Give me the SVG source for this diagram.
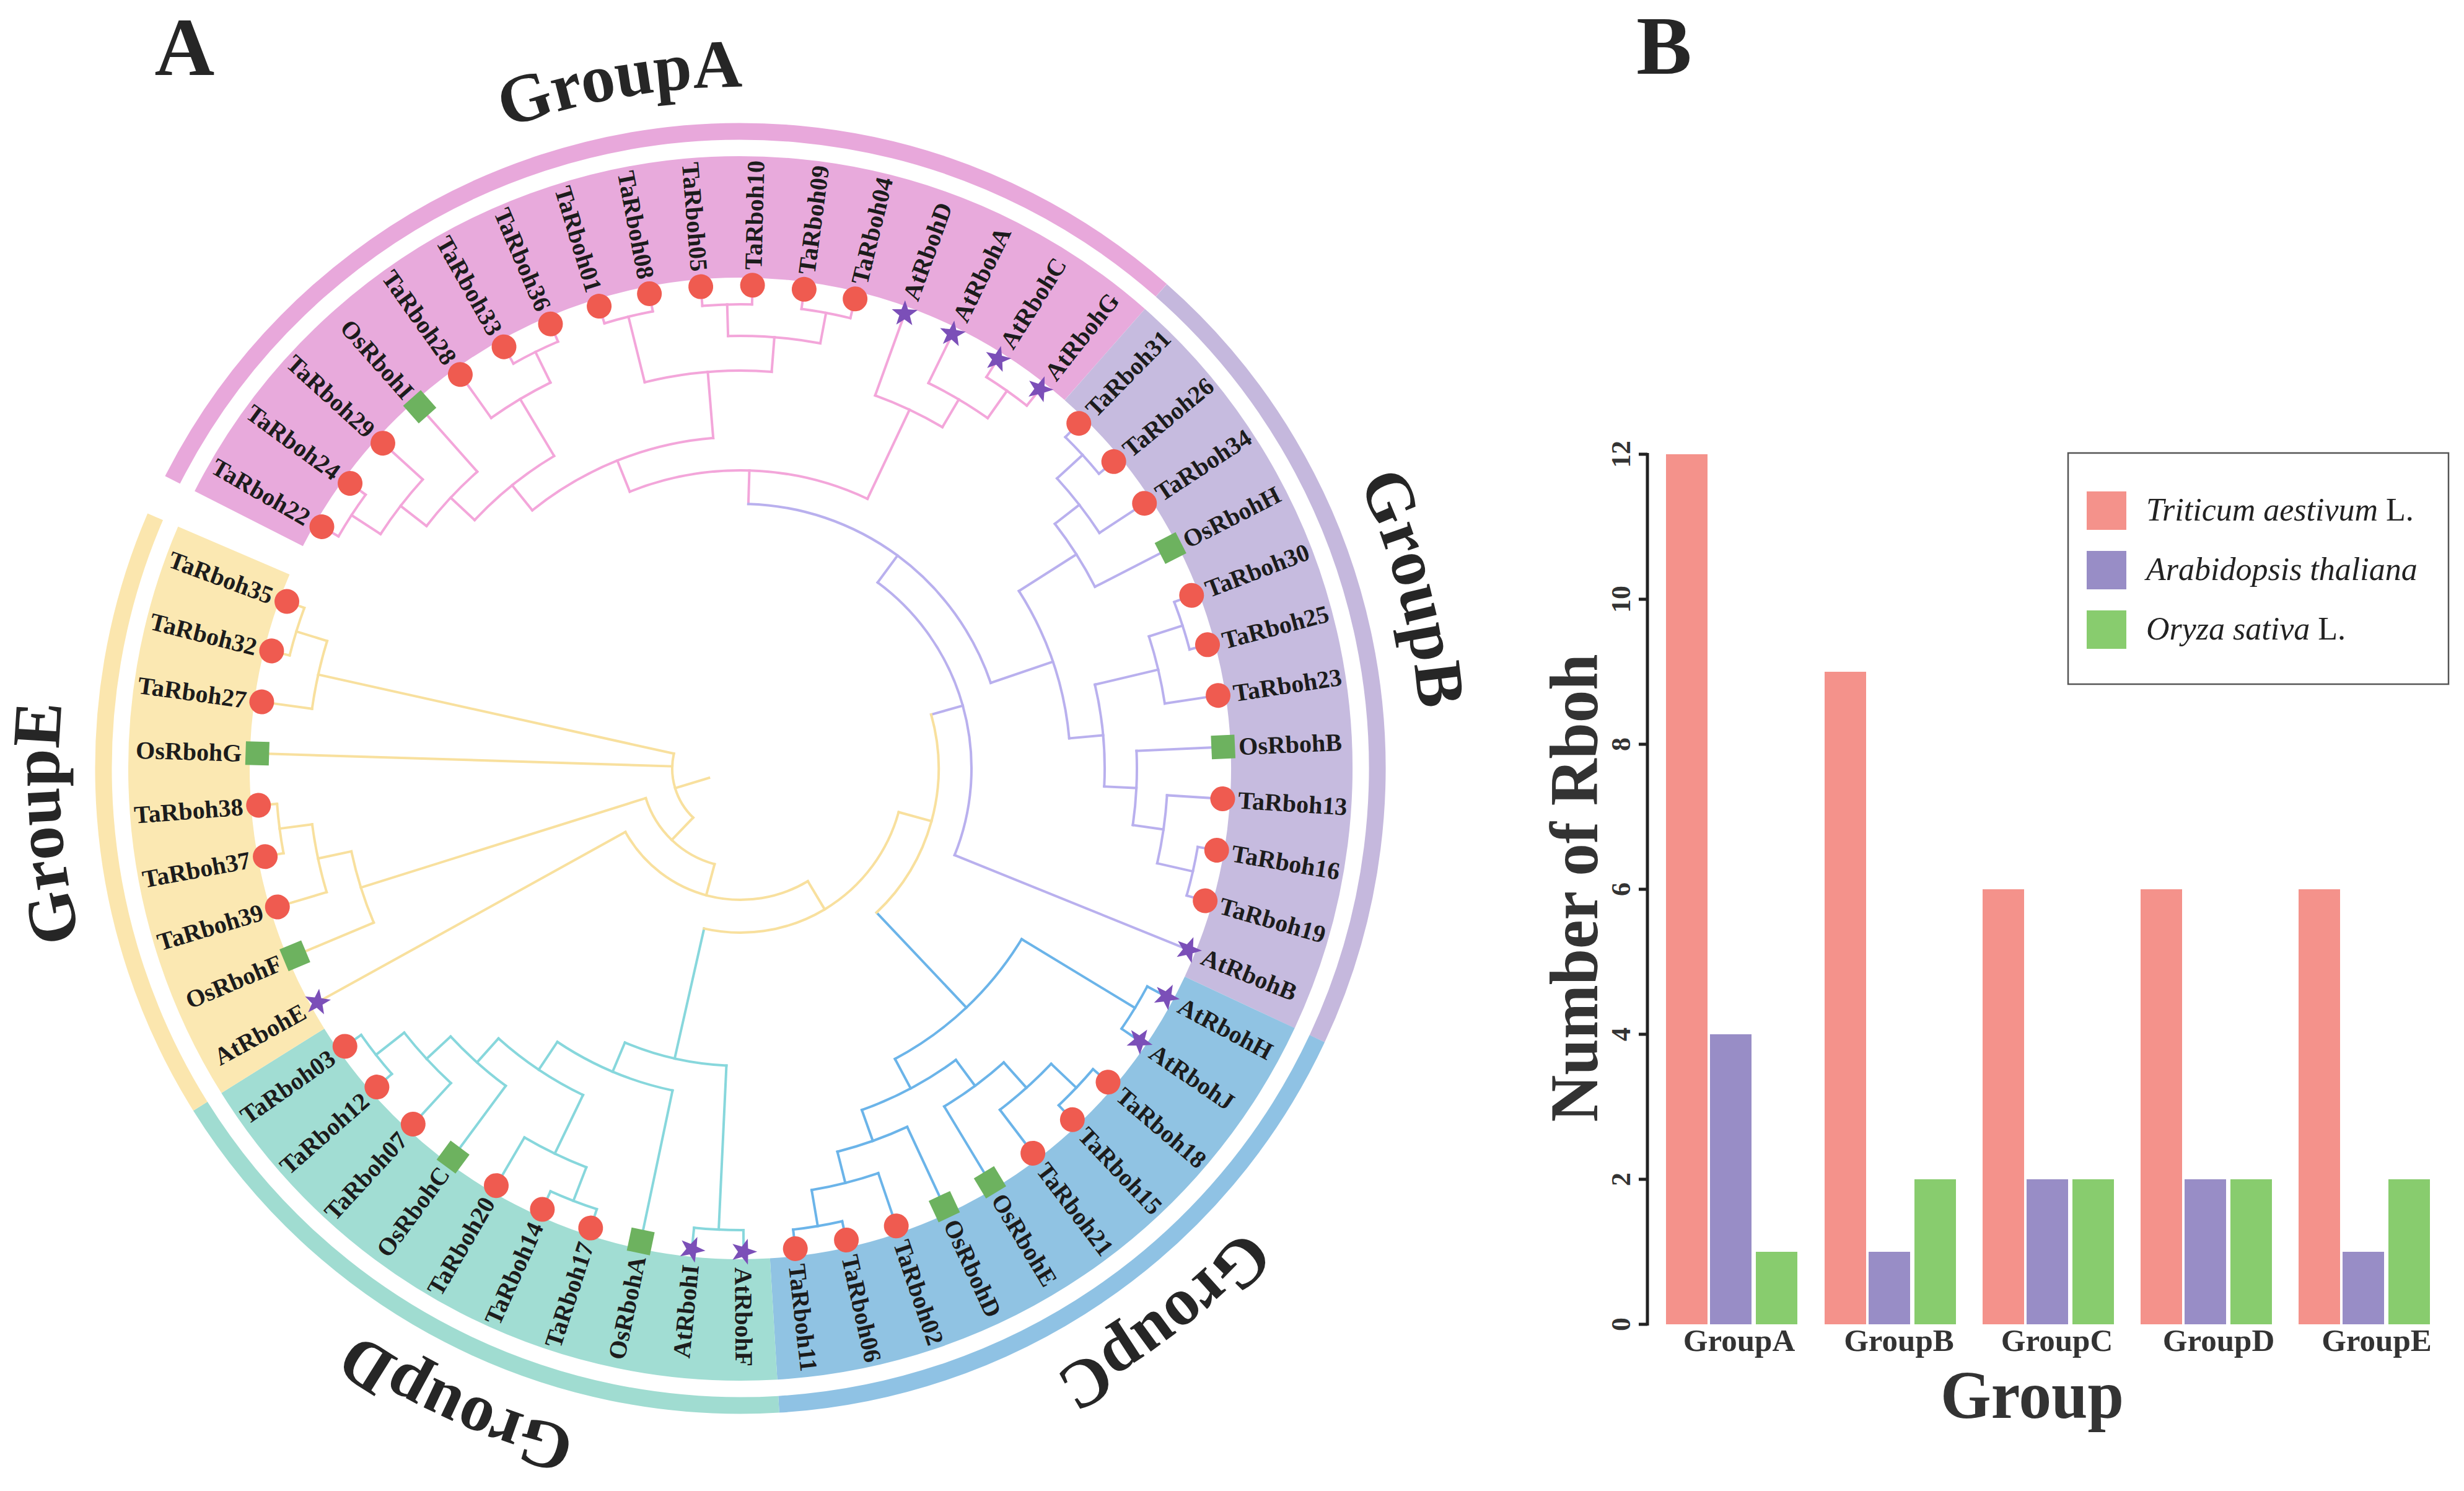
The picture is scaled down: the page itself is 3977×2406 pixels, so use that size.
<svg xmlns="http://www.w3.org/2000/svg" xmlns:xlink="http://www.w3.org/1999/xlink" width="3977" height="2406" viewBox="0 0 3977 2406">
<style>
.a{stroke:#F3A6DA}.b{stroke:#B9B0EE}.c{stroke:#6BB4E9}.d{stroke:#87D7DC}.e{stroke:#F8E09E}
#connectors circle,#connectors line{fill:none;stroke-width:4;stroke-linecap:square}
.lb{font-family:"Liberation Serif","Times New Roman",serif;font-weight:bold;font-size:40px;fill:#1c1c1c}
.gl{font-family:"Liberation Serif","Times New Roman",serif;font-weight:bold;font-size:110px;fill:#262626}
.pl{font-family:"Liberation Serif","Times New Roman",serif;font-weight:bold;font-size:134px;fill:#262626}
.tk{font-family:"Liberation Serif","Times New Roman",serif;font-weight:bold;font-size:44px;fill:#333}
.xl{font-family:"Liberation Serif","Times New Roman",serif;font-weight:bold;font-size:51px;fill:#333}
.ax{font-family:"Liberation Serif","Times New Roman",serif;font-weight:bold;font-size:110px;fill:#333}
.lg{font-family:"Liberation Serif","Times New Roman",serif;font-size:52px;fill:#222}
.band{fill:none;stroke-width:196}
.ring{fill:none;stroke-width:27}
</style>
<defs>
<circle id="mT" r="20" fill="#EF5B50"/>
<path id="mA" d="M0,-22 L5.29,-7.28 L20.92,-6.8 L8.56,2.78 L12.93,17.8 L0,9 L-12.93,17.8 L-8.56,2.78 L-20.92,-6.8 L-5.29,-7.28 Z" fill="#7B4FB8"/>
<rect id="mO" x="-19" y="-19" width="38" height="38" fill="#6DB25F"/>
<path id="gp" d="M1100,0 A1100,1100 0 0 1 -1100,0 A1100,1100 0 0 1 1100,0"/>
</defs>
<rect width="3977" height="2406" fill="#ffffff"/>

<text class="pl" x="298" y="121" text-anchor="middle">A</text>
<text class="pl" x="2686" y="119" text-anchor="middle">B</text>

<g id="bands" transform="translate(1195 1240)">
<circle class="band" r="890" pathLength="360" stroke-dasharray="104.44 400" transform="rotate(206.93)" stroke="#E8AADC"/>
<circle class="band" r="890" pathLength="360" stroke-dasharray="73.73 400" transform="rotate(311.37)" stroke="#C6BBDF"/>
<circle class="band" r="890" pathLength="360" stroke-dasharray="61.44 400" transform="rotate(25.10)" stroke="#90C3E3"/>
<circle class="band" r="890" pathLength="360" stroke-dasharray="61.44 400" transform="rotate(86.54)" stroke="#A1DDD3"/>
<circle class="band" r="890" pathLength="360" stroke-dasharray="55.29 400" transform="rotate(147.98)" stroke="#FBE8B2"/>
<circle class="ring" r="1028" pathLength="360" stroke-dasharray="104.44 400" transform="rotate(206.93)" stroke="#E8A8DB"/>
<circle class="ring" r="1028" pathLength="360" stroke-dasharray="73.73 400" transform="rotate(311.37)" stroke="#C5B8DD"/>
<circle class="ring" r="1028" pathLength="360" stroke-dasharray="61.44 400" transform="rotate(25.10)" stroke="#8FC2E4"/>
<circle class="ring" r="1028" pathLength="360" stroke-dasharray="61.44 400" transform="rotate(86.54)" stroke="#A0DCD1"/>
<circle class="ring" r="1028" pathLength="360" stroke-dasharray="55.29 400" transform="rotate(147.98)" stroke="#FBE6AE"/>
</g>

<g id="group-labels" transform="translate(1195 1240)">
<text class="gl"><textPath href="#gp" xlink:href="#gp" startOffset="4992" text-anchor="middle">GroupA</textPath></text>
<text class="gl"><textPath href="#gp" xlink:href="#gp" startOffset="6624" text-anchor="middle">GroupB</textPath></text>
<text class="gl"><textPath href="#gp" xlink:href="#gp" startOffset="1008" text-anchor="middle">GroupC</textPath></text>
<text class="gl"><textPath href="#gp" xlink:href="#gp" startOffset="2189" text-anchor="middle">GroupD</textPath></text>
<text class="gl"><textPath href="#gp" xlink:href="#gp" startOffset="3369" text-anchor="middle">GroupE</textPath></text>
</g>

<g id="connectors" transform="translate(1195 1240)">
<g class="a">
<circle class="a" r="749" pathLength="360" stroke-dasharray="6.14 400" transform="rotate(210)"/>
<circle class="a" r="693" pathLength="360" stroke-dasharray="9.22 400" transform="rotate(213.07)"/>
<circle class="a" r="640" pathLength="360" stroke-dasharray="10.75 400" transform="rotate(217.68)"/>
<circle class="a" r="749" pathLength="360" stroke-dasharray="6.14 400" transform="rotate(240.72)"/>
<circle class="a" r="694" pathLength="360" stroke-dasharray="9.21 400" transform="rotate(234.58)"/>
<circle class="a" r="587" pathLength="360" stroke-dasharray="16.13 400" transform="rotate(223.06)"/>
<circle class="a" r="751" pathLength="360" stroke-dasharray="6.14 400" transform="rotate(253.01)"/>
<circle class="a" r="749" pathLength="360" stroke-dasharray="6.14 400" transform="rotate(265.30)"/>
<circle class="a" r="748" pathLength="360" stroke-dasharray="6.15 400" transform="rotate(277.58)"/>
<circle class="a" r="698" pathLength="360" stroke-dasharray="12.28 400" transform="rotate(268.37)"/>
<circle class="a" r="642" pathLength="360" stroke-dasharray="18.43 400" transform="rotate(256.08)"/>
<circle class="a" r="535" pathLength="360" stroke-dasharray="34.18 400" transform="rotate(231.12)"/>
<circle class="a" r="746" pathLength="360" stroke-dasharray="6.14 400" transform="rotate(302.16)"/>
<circle class="a" r="692" pathLength="360" stroke-dasharray="9.21 400" transform="rotate(296.02)"/>
<circle class="a" r="640" pathLength="360" stroke-dasharray="10.76 400" transform="rotate(289.87)"/>
<circle class="a" r="481" pathLength="360" stroke-dasharray="47.04 400" transform="rotate(248.21)"/>
<line class="a" x1="749" x2="770" transform="rotate(210)"/>
<line class="a" x1="749" x2="770" transform="rotate(216.14)"/>
<line class="a" x1="693" x2="749" transform="rotate(213.07)"/>
<line class="a" x1="693" x2="770" transform="rotate(222.29)"/>
<line class="a" x1="640" x2="693" transform="rotate(217.68)"/>
<line class="a" x1="640" x2="770" transform="rotate(228.43)"/>
<line class="a" x1="749" x2="770" transform="rotate(240.72)"/>
<line class="a" x1="749" x2="770" transform="rotate(246.86)"/>
<line class="a" x1="694" x2="749" transform="rotate(243.79)"/>
<line class="a" x1="694" x2="770" transform="rotate(234.58)"/>
<line class="a" x1="587" x2="640" transform="rotate(223.06)"/>
<line class="a" x1="587" x2="694" transform="rotate(239.19)"/>
<line class="a" x1="751" x2="770" transform="rotate(253.01)"/>
<line class="a" x1="751" x2="770" transform="rotate(259.15)"/>
<line class="a" x1="749" x2="770" transform="rotate(265.30)"/>
<line class="a" x1="749" x2="770" transform="rotate(271.44)"/>
<line class="a" x1="748" x2="770" transform="rotate(277.58)"/>
<line class="a" x1="748" x2="770" transform="rotate(283.73)"/>
<line class="a" x1="698" x2="749" transform="rotate(268.37)"/>
<line class="a" x1="698" x2="748" transform="rotate(280.65)"/>
<line class="a" x1="642" x2="751" transform="rotate(256.08)"/>
<line class="a" x1="642" x2="698" transform="rotate(274.51)"/>
<line class="a" x1="535" x2="587" transform="rotate(231.12)"/>
<line class="a" x1="535" x2="642" transform="rotate(265.30)"/>
<line class="a" x1="746" x2="770" transform="rotate(302.16)"/>
<line class="a" x1="746" x2="770" transform="rotate(308.30)"/>
<line class="a" x1="692" x2="746" transform="rotate(305.23)"/>
<line class="a" x1="692" x2="770" transform="rotate(296.02)"/>
<line class="a" x1="640" x2="692" transform="rotate(300.63)"/>
<line class="a" x1="640" x2="770" transform="rotate(289.87)"/>
<line class="a" x1="481" x2="535" transform="rotate(248.21)"/>
<line class="a" x1="481" x2="640" transform="rotate(295.25)"/>
<line class="a" x1="427" x2="481" transform="rotate(271.73)"/>
</g>
<g>
<circle class="b" r="749" pathLength="360" stroke-dasharray="6.14 400" transform="rotate(314.45)"/>
<circle class="b" r="693" pathLength="360" stroke-dasharray="9.22 400" transform="rotate(317.52)"/>
<circle class="b" r="643" pathLength="360" stroke-dasharray="10.75 400" transform="rotate(322.13)"/>
<circle class="b" r="750" pathLength="360" stroke-dasharray="6.15 400" transform="rotate(339.02)"/>
<circle class="b" r="693" pathLength="360" stroke-dasharray="9.21 400" transform="rotate(342.10)"/>
<circle class="b" r="749" pathLength="360" stroke-dasharray="6.15 400" transform="rotate(9.74)"/>
<circle class="b" r="690" pathLength="360" stroke-dasharray="9.22 400" transform="rotate(3.60)"/>
<circle class="b" r="640" pathLength="360" stroke-dasharray="10.75 400" transform="rotate(357.46)"/>
<circle class="b" r="588" pathLength="360" stroke-dasharray="16.14 400" transform="rotate(346.70)"/>
<circle class="b" r="533" pathLength="360" stroke-dasharray="27.26 400" transform="rotate(327.51)"/>
<circle class="b" r="427" pathLength="360" stroke-dasharray="69.41 400" transform="rotate(271.73)"/>
<circle class="b" r="373" pathLength="360" stroke-dasharray="75.59 400" transform="rotate(306.44)"/>
<line class="b" x1="749" x2="770" transform="rotate(314.45)"/>
<line class="b" x1="749" x2="770" transform="rotate(320.59)"/>
<line class="b" x1="693" x2="749" transform="rotate(317.52)"/>
<line class="b" x1="693" x2="770" transform="rotate(326.74)"/>
<line class="b" x1="643" x2="693" transform="rotate(322.13)"/>
<line class="b" x1="643" x2="770" transform="rotate(332.88)"/>
<line class="b" x1="750" x2="770" transform="rotate(339.02)"/>
<line class="b" x1="750" x2="770" transform="rotate(345.17)"/>
<line class="b" x1="693" x2="750" transform="rotate(342.10)"/>
<line class="b" x1="693" x2="770" transform="rotate(351.31)"/>
<line class="b" x1="749" x2="770" transform="rotate(9.74)"/>
<line class="b" x1="749" x2="770" transform="rotate(15.89)"/>
<line class="b" x1="690" x2="749" transform="rotate(12.82)"/>
<line class="b" x1="690" x2="770" transform="rotate(3.60)"/>
<line class="b" x1="640" x2="690" transform="rotate(8.21)"/>
<line class="b" x1="640" x2="770" transform="rotate(357.46)"/>
<line class="b" x1="588" x2="693" transform="rotate(346.70)"/>
<line class="b" x1="588" x2="640" transform="rotate(2.84)"/>
<line class="b" x1="533" x2="643" transform="rotate(327.51)"/>
<line class="b" x1="533" x2="588" transform="rotate(354.77)"/>
<line class="b" x1="427" x2="533" transform="rotate(341.14)"/>
<line class="b" x1="373" x2="427" transform="rotate(306.44)"/>
<line class="b" x1="373" x2="770" transform="rotate(22.03)"/>
<line class="b" x1="320" x2="373" transform="rotate(344.24)"/>
</g>
<g>
<circle class="c" r="745" pathLength="360" stroke-dasharray="6.14 400" transform="rotate(28.18)"/>
<circle class="c" r="748" pathLength="360" stroke-dasharray="6.15 400" transform="rotate(40.46)"/>
<circle class="c" r="692" pathLength="360" stroke-dasharray="9.21 400" transform="rotate(43.54)"/>
<circle class="c" r="637" pathLength="360" stroke-dasharray="10.76 400" transform="rotate(48.14)"/>
<circle class="c" r="749" pathLength="360" stroke-dasharray="6.14 400" transform="rotate(77.33)"/>
<circle class="c" r="690" pathLength="360" stroke-dasharray="9.22 400" transform="rotate(71.18)"/>
<circle class="c" r="638" pathLength="360" stroke-dasharray="10.75 400" transform="rotate(65.04)"/>
<circle class="c" r="585" pathLength="360" stroke-dasharray="16.9 400" transform="rotate(53.52)"/>
<circle class="c" r="531" pathLength="360" stroke-dasharray="30.72 400" transform="rotate(31.25)"/>
<line class="c" x1="745" x2="770" transform="rotate(28.18)"/>
<line class="c" x1="745" x2="770" transform="rotate(34.32)"/>
<line class="c" x1="748" x2="770" transform="rotate(40.46)"/>
<line class="c" x1="748" x2="770" transform="rotate(46.61)"/>
<line class="c" x1="692" x2="748" transform="rotate(43.54)"/>
<line class="c" x1="692" x2="770" transform="rotate(52.75)"/>
<line class="c" x1="637" x2="692" transform="rotate(48.14)"/>
<line class="c" x1="637" x2="770" transform="rotate(58.90)"/>
<line class="c" x1="749" x2="770" transform="rotate(77.33)"/>
<line class="c" x1="749" x2="770" transform="rotate(83.47)"/>
<line class="c" x1="690" x2="749" transform="rotate(80.40)"/>
<line class="c" x1="690" x2="770" transform="rotate(71.18)"/>
<line class="c" x1="638" x2="690" transform="rotate(75.79)"/>
<line class="c" x1="638" x2="770" transform="rotate(65.04)"/>
<line class="c" x1="585" x2="637" transform="rotate(53.52)"/>
<line class="c" x1="585" x2="638" transform="rotate(70.42)"/>
<line class="c" x1="531" x2="745" transform="rotate(31.25)"/>
<line class="c" x1="531" x2="585" transform="rotate(61.97)"/>
<line class="c" x1="320" x2="531" transform="rotate(46.61)"/>
</g>
<g>
<circle class="d" r="745" pathLength="360" stroke-dasharray="6.14 400" transform="rotate(89.62)"/>
<circle class="d" r="748" pathLength="360" stroke-dasharray="6.14 400" transform="rotate(108.05)"/>
<circle class="d" r="690" pathLength="360" stroke-dasharray="9.22 400" transform="rotate(111.12)"/>
<circle class="d" r="748" pathLength="360" stroke-dasharray="6.14 400" transform="rotate(138.77)"/>
<circle class="d" r="690" pathLength="360" stroke-dasharray="9.22 400" transform="rotate(132.62)"/>
<circle class="d" r="637" pathLength="360" stroke-dasharray="10.75 400" transform="rotate(126.48)"/>
<circle class="d" r="585" pathLength="360" stroke-dasharray="16.13 400" transform="rotate(115.73)"/>
<circle class="d" r="531" pathLength="360" stroke-dasharray="21.9 400" transform="rotate(101.90)"/>
<circle class="d" r="480" pathLength="360" stroke-dasharray="20.16 400" transform="rotate(92.69)"/>
<line class="d" x1="745" x2="770" transform="rotate(89.62)"/>
<line class="d" x1="745" x2="770" transform="rotate(95.76)"/>
<line class="d" x1="748" x2="770" transform="rotate(108.05)"/>
<line class="d" x1="748" x2="770" transform="rotate(114.19)"/>
<line class="d" x1="690" x2="748" transform="rotate(111.12)"/>
<line class="d" x1="690" x2="770" transform="rotate(120.34)"/>
<line class="d" x1="748" x2="770" transform="rotate(138.77)"/>
<line class="d" x1="748" x2="770" transform="rotate(144.91)"/>
<line class="d" x1="690" x2="748" transform="rotate(141.84)"/>
<line class="d" x1="690" x2="770" transform="rotate(132.62)"/>
<line class="d" x1="637" x2="690" transform="rotate(137.23)"/>
<line class="d" x1="637" x2="770" transform="rotate(126.48)"/>
<line class="d" x1="585" x2="690" transform="rotate(115.73)"/>
<line class="d" x1="585" x2="637" transform="rotate(131.86)"/>
<line class="d" x1="531" x2="585" transform="rotate(123.80)"/>
<line class="d" x1="531" x2="770" transform="rotate(101.90)"/>
<line class="d" x1="480" x2="745" transform="rotate(92.69)"/>
<line class="d" x1="480" x2="531" transform="rotate(112.85)"/>
<line class="d" x1="265" x2="480" transform="rotate(102.77)"/>
</g>
<g>
<circle class="e" r="320" pathLength="360" stroke-dasharray="62.37 400" transform="rotate(344.24)"/>
<circle class="e" r="265" pathLength="360" stroke-dasharray="87.34 400" transform="rotate(15.43)"/>
<circle class="e" r="212" pathLength="360" stroke-dasharray="91.96 400" transform="rotate(59.10)"/>
<circle class="e" r="750" pathLength="360" stroke-dasharray="6.14 400" transform="rotate(169.49)"/>
<circle class="e" r="697" pathLength="360" stroke-dasharray="9.21 400" transform="rotate(163.35)"/>
<circle class="e" r="642" pathLength="360" stroke-dasharray="10.76 400" transform="rotate(157.20)"/>
<circle class="e" r="160" pathLength="360" stroke-dasharray="57.5 400" transform="rotate(105.08)"/>
<circle class="e" r="750" pathLength="360" stroke-dasharray="6.14 400" transform="rotate(194.07)"/>
<circle class="e" r="698" pathLength="360" stroke-dasharray="9.22 400" transform="rotate(187.92)"/>
<circle class="e" r="110" pathLength="360" stroke-dasharray="58.7 400" transform="rotate(133.83)"/>
<line class="e" x1="265" x2="320" transform="rotate(15.43)"/>
<line class="e" x1="212" x2="265" transform="rotate(59.10)"/>
<line class="e" x1="212" x2="770" transform="rotate(151.06)"/>
<line class="e" x1="750" x2="770" transform="rotate(169.49)"/>
<line class="e" x1="750" x2="770" transform="rotate(175.63)"/>
<line class="e" x1="697" x2="750" transform="rotate(172.56)"/>
<line class="e" x1="697" x2="770" transform="rotate(163.35)"/>
<line class="e" x1="642" x2="697" transform="rotate(167.96)"/>
<line class="e" x1="642" x2="770" transform="rotate(157.20)"/>
<line class="e" x1="160" x2="212" transform="rotate(105.08)"/>
<line class="e" x1="160" x2="642" transform="rotate(162.58)"/>
<line class="e" x1="750" x2="770" transform="rotate(194.07)"/>
<line class="e" x1="750" x2="770" transform="rotate(200.21)"/>
<line class="e" x1="698" x2="750" transform="rotate(197.14)"/>
<line class="e" x1="698" x2="770" transform="rotate(187.92)"/>
<line class="e" x1="110" x2="160" transform="rotate(133.83)"/>
<line class="e" x1="110" x2="770" transform="rotate(181.78)"/>
<line class="e" x1="110" x2="698" transform="rotate(192.53)"/>
<line class="e" x1="53" x2="110" transform="rotate(163.18)"/>
</g>
</g>

<g id="leaves" transform="translate(1195 1240)">
<g id="n-TaRboh22" transform="rotate(210)"><use href="#mT" xlink:href="#mT" x="780"/><text class="lb" transform="translate(805 0) rotate(180)" text-anchor="end" dy="14">TaRboh22</text></g>
<g id="n-TaRboh24" transform="rotate(216.14)"><use href="#mT" xlink:href="#mT" x="780"/><text class="lb" transform="translate(805 0) rotate(180)" text-anchor="end" dy="14">TaRboh24</text></g>
<g id="n-TaRboh29" transform="rotate(222.29)"><use href="#mT" xlink:href="#mT" x="780"/><text class="lb" transform="translate(805 0) rotate(180)" text-anchor="end" dy="14">TaRboh29</text></g>
<g id="n-OsRbohI" transform="rotate(228.43)"><use href="#mO" xlink:href="#mO" x="780"/><text class="lb" transform="translate(805 0) rotate(180)" text-anchor="end" dy="14">OsRbohI</text></g>
<g id="n-TaRboh28" transform="rotate(234.58)"><use href="#mT" xlink:href="#mT" x="780"/><text class="lb" transform="translate(805 0) rotate(180)" text-anchor="end" dy="14">TaRboh28</text></g>
<g id="n-TaRboh33" transform="rotate(240.72)"><use href="#mT" xlink:href="#mT" x="780"/><text class="lb" transform="translate(805 0) rotate(180)" text-anchor="end" dy="14">TaRboh33</text></g>
<g id="n-TaRboh36" transform="rotate(246.86)"><use href="#mT" xlink:href="#mT" x="780"/><text class="lb" transform="translate(805 0) rotate(180)" text-anchor="end" dy="14">TaRboh36</text></g>
<g id="n-TaRboh01" transform="rotate(253.01)"><use href="#mT" xlink:href="#mT" x="780"/><text class="lb" transform="translate(805 0) rotate(180)" text-anchor="end" dy="14">TaRboh01</text></g>
<g id="n-TaRboh08" transform="rotate(259.15)"><use href="#mT" xlink:href="#mT" x="780"/><text class="lb" transform="translate(805 0) rotate(180)" text-anchor="end" dy="14">TaRboh08</text></g>
<g id="n-TaRboh05" transform="rotate(265.30)"><use href="#mT" xlink:href="#mT" x="780"/><text class="lb" transform="translate(805 0) rotate(180)" text-anchor="end" dy="14">TaRboh05</text></g>
<g id="n-TaRboh10" transform="rotate(271.44)"><use href="#mT" xlink:href="#mT" x="780"/><text class="lb" x="805" dy="14">TaRboh10</text></g>
<g id="n-TaRboh09" transform="rotate(277.58)"><use href="#mT" xlink:href="#mT" x="780"/><text class="lb" x="805" dy="14">TaRboh09</text></g>
<g id="n-TaRboh04" transform="rotate(283.73)"><use href="#mT" xlink:href="#mT" x="780"/><text class="lb" x="805" dy="14">TaRboh04</text></g>
<g id="n-AtRbohD" transform="rotate(289.87)"><use href="#mA" xlink:href="#mA" x="780"/><text class="lb" x="805" dy="14">AtRbohD</text></g>
<g id="n-AtRbohA" transform="rotate(296.02)"><use href="#mA" xlink:href="#mA" x="780"/><text class="lb" x="805" dy="14">AtRbohA</text></g>
<g id="n-AtRbohC" transform="rotate(302.16)"><use href="#mA" xlink:href="#mA" x="780"/><text class="lb" x="805" dy="14">AtRbohC</text></g>
<g id="n-AtRbohG" transform="rotate(308.30)"><use href="#mA" xlink:href="#mA" x="780"/><text class="lb" x="805" dy="14">AtRbohG</text></g>
<g id="n-TaRboh31" transform="rotate(314.45)"><use href="#mT" xlink:href="#mT" x="780"/><text class="lb" x="805" dy="14">TaRboh31</text></g>
<g id="n-TaRboh26" transform="rotate(320.59)"><use href="#mT" xlink:href="#mT" x="780"/><text class="lb" x="805" dy="14">TaRboh26</text></g>
<g id="n-TaRboh34" transform="rotate(326.74)"><use href="#mT" xlink:href="#mT" x="780"/><text class="lb" x="805" dy="14">TaRboh34</text></g>
<g id="n-OsRbohH" transform="rotate(332.88)"><use href="#mO" xlink:href="#mO" x="780"/><text class="lb" x="805" dy="14">OsRbohH</text></g>
<g id="n-TaRboh30" transform="rotate(339.02)"><use href="#mT" xlink:href="#mT" x="780"/><text class="lb" x="805" dy="14">TaRboh30</text></g>
<g id="n-TaRboh25" transform="rotate(345.17)"><use href="#mT" xlink:href="#mT" x="780"/><text class="lb" x="805" dy="14">TaRboh25</text></g>
<g id="n-TaRboh23" transform="rotate(351.31)"><use href="#mT" xlink:href="#mT" x="780"/><text class="lb" x="805" dy="14">TaRboh23</text></g>
<g id="n-OsRbohB" transform="rotate(357.46)"><use href="#mO" xlink:href="#mO" x="780"/><text class="lb" x="805" dy="14">OsRbohB</text></g>
<g id="n-TaRboh13" transform="rotate(3.60)"><use href="#mT" xlink:href="#mT" x="780"/><text class="lb" x="805" dy="14">TaRboh13</text></g>
<g id="n-TaRboh16" transform="rotate(9.74)"><use href="#mT" xlink:href="#mT" x="780"/><text class="lb" x="805" dy="14">TaRboh16</text></g>
<g id="n-TaRboh19" transform="rotate(15.89)"><use href="#mT" xlink:href="#mT" x="780"/><text class="lb" x="805" dy="14">TaRboh19</text></g>
<g id="n-AtRbohB" transform="rotate(22.03)"><use href="#mA" xlink:href="#mA" x="780"/><text class="lb" x="805" dy="14">AtRbohB</text></g>
<g id="n-AtRbohH" transform="rotate(28.18)"><use href="#mA" xlink:href="#mA" x="780"/><text class="lb" x="805" dy="14">AtRbohH</text></g>
<g id="n-AtRbohJ" transform="rotate(34.32)"><use href="#mA" xlink:href="#mA" x="780"/><text class="lb" x="805" dy="14">AtRbohJ</text></g>
<g id="n-TaRboh18" transform="rotate(40.46)"><use href="#mT" xlink:href="#mT" x="780"/><text class="lb" x="805" dy="14">TaRboh18</text></g>
<g id="n-TaRboh15" transform="rotate(46.61)"><use href="#mT" xlink:href="#mT" x="780"/><text class="lb" x="805" dy="14">TaRboh15</text></g>
<g id="n-TaRboh21" transform="rotate(52.75)"><use href="#mT" xlink:href="#mT" x="780"/><text class="lb" x="805" dy="14">TaRboh21</text></g>
<g id="n-OsRbohE" transform="rotate(58.90)"><use href="#mO" xlink:href="#mO" x="780"/><text class="lb" x="805" dy="14">OsRbohE</text></g>
<g id="n-OsRbohD" transform="rotate(65.04)"><use href="#mO" xlink:href="#mO" x="780"/><text class="lb" x="805" dy="14">OsRbohD</text></g>
<g id="n-TaRboh02" transform="rotate(71.18)"><use href="#mT" xlink:href="#mT" x="780"/><text class="lb" x="805" dy="14">TaRboh02</text></g>
<g id="n-TaRboh06" transform="rotate(77.33)"><use href="#mT" xlink:href="#mT" x="780"/><text class="lb" x="805" dy="14">TaRboh06</text></g>
<g id="n-TaRboh11" transform="rotate(83.47)"><use href="#mT" xlink:href="#mT" x="780"/><text class="lb" x="805" dy="14">TaRboh11</text></g>
<g id="n-AtRbohF" transform="rotate(89.62)"><use href="#mA" xlink:href="#mA" x="780"/><text class="lb" x="805" dy="14">AtRbohF</text></g>
<g id="n-AtRbohI" transform="rotate(95.76)"><use href="#mA" xlink:href="#mA" x="780"/><text class="lb" transform="translate(805 0) rotate(180)" text-anchor="end" dy="14">AtRbohI</text></g>
<g id="n-OsRbohA" transform="rotate(101.90)"><use href="#mO" xlink:href="#mO" x="780"/><text class="lb" transform="translate(805 0) rotate(180)" text-anchor="end" dy="14">OsRbohA</text></g>
<g id="n-TaRboh17" transform="rotate(108.05)"><use href="#mT" xlink:href="#mT" x="780"/><text class="lb" transform="translate(805 0) rotate(180)" text-anchor="end" dy="14">TaRboh17</text></g>
<g id="n-TaRboh14" transform="rotate(114.19)"><use href="#mT" xlink:href="#mT" x="780"/><text class="lb" transform="translate(805 0) rotate(180)" text-anchor="end" dy="14">TaRboh14</text></g>
<g id="n-TaRboh20" transform="rotate(120.34)"><use href="#mT" xlink:href="#mT" x="780"/><text class="lb" transform="translate(805 0) rotate(180)" text-anchor="end" dy="14">TaRboh20</text></g>
<g id="n-OsRbohC" transform="rotate(126.48)"><use href="#mO" xlink:href="#mO" x="780"/><text class="lb" transform="translate(805 0) rotate(180)" text-anchor="end" dy="14">OsRbohC</text></g>
<g id="n-TaRboh07" transform="rotate(132.62)"><use href="#mT" xlink:href="#mT" x="780"/><text class="lb" transform="translate(805 0) rotate(180)" text-anchor="end" dy="14">TaRboh07</text></g>
<g id="n-TaRboh12" transform="rotate(138.77)"><use href="#mT" xlink:href="#mT" x="780"/><text class="lb" transform="translate(805 0) rotate(180)" text-anchor="end" dy="14">TaRboh12</text></g>
<g id="n-TaRboh03" transform="rotate(144.91)"><use href="#mT" xlink:href="#mT" x="780"/><text class="lb" transform="translate(805 0) rotate(180)" text-anchor="end" dy="14">TaRboh03</text></g>
<g id="n-AtRbohE" transform="rotate(151.06)"><use href="#mA" xlink:href="#mA" x="780"/><text class="lb" transform="translate(805 0) rotate(180)" text-anchor="end" dy="14">AtRbohE</text></g>
<g id="n-OsRbohF" transform="rotate(157.20)"><use href="#mO" xlink:href="#mO" x="780"/><text class="lb" transform="translate(805 0) rotate(180)" text-anchor="end" dy="14">OsRbohF</text></g>
<g id="n-TaRboh39" transform="rotate(163.35)"><use href="#mT" xlink:href="#mT" x="780"/><text class="lb" transform="translate(805 0) rotate(180)" text-anchor="end" dy="14">TaRboh39</text></g>
<g id="n-TaRboh37" transform="rotate(169.49)"><use href="#mT" xlink:href="#mT" x="780"/><text class="lb" transform="translate(805 0) rotate(180)" text-anchor="end" dy="14">TaRboh37</text></g>
<g id="n-TaRboh38" transform="rotate(175.63)"><use href="#mT" xlink:href="#mT" x="780"/><text class="lb" transform="translate(805 0) rotate(180)" text-anchor="end" dy="14">TaRboh38</text></g>
<g id="n-OsRbohG" transform="rotate(181.78)"><use href="#mO" xlink:href="#mO" x="780"/><text class="lb" transform="translate(805 0) rotate(180)" text-anchor="end" dy="14">OsRbohG</text></g>
<g id="n-TaRboh27" transform="rotate(187.92)"><use href="#mT" xlink:href="#mT" x="780"/><text class="lb" transform="translate(805 0) rotate(180)" text-anchor="end" dy="14">TaRboh27</text></g>
<g id="n-TaRboh32" transform="rotate(194.07)"><use href="#mT" xlink:href="#mT" x="780"/><text class="lb" transform="translate(805 0) rotate(180)" text-anchor="end" dy="14">TaRboh32</text></g>
<g id="n-TaRboh35" transform="rotate(200.21)"><use href="#mT" xlink:href="#mT" x="780"/><text class="lb" transform="translate(805 0) rotate(180)" text-anchor="end" dy="14">TaRboh35</text></g>
</g>

<g id="chart-b">
<g id="bars">
<rect x="2689" y="733" width="67" height="1404" fill="#F4928B"/>
<rect x="2760" y="1669" width="67" height="468" fill="#988DC6"/>
<rect x="2834" y="2020" width="67" height="117" fill="#88CC6E"/>
<rect x="2945" y="1084" width="67" height="1053" fill="#F4928B"/>
<rect x="3016" y="2020" width="67" height="117" fill="#988DC6"/>
<rect x="3090" y="1903" width="67" height="234" fill="#88CC6E"/>
<rect x="3200" y="1435" width="67" height="702" fill="#F4928B"/>
<rect x="3271" y="1903" width="67" height="234" fill="#988DC6"/>
<rect x="3345" y="1903" width="67" height="234" fill="#88CC6E"/>
<rect x="3455" y="1435" width="67" height="702" fill="#F4928B"/>
<rect x="3526" y="1903" width="67" height="234" fill="#988DC6"/>
<rect x="3600" y="1903" width="67" height="234" fill="#88CC6E"/>
<rect x="3710" y="1435" width="67" height="702" fill="#F4928B"/>
<rect x="3781" y="2020" width="67" height="117" fill="#988DC6"/>
<rect x="3855" y="1903" width="67" height="234" fill="#88CC6E"/>
</g>
<g id="y-axis" stroke="#222" stroke-width="5">
<line x1="2659" y1="731" x2="2659" y2="2139"/>
<line x1="2645" y1="733" x2="2659" y2="733"/>
<line x1="2645" y1="967" x2="2659" y2="967"/>
<line x1="2645" y1="1201" x2="2659" y2="1201"/>
<line x1="2645" y1="1435" x2="2659" y2="1435"/>
<line x1="2645" y1="1669" x2="2659" y2="1669"/>
<line x1="2645" y1="1903" x2="2659" y2="1903"/>
<line x1="2645" y1="2137" x2="2659" y2="2137"/>
</g>
<g id="y-ticks">
<text class="tk" transform="translate(2631 733) rotate(-90)" text-anchor="middle">12</text>
<text class="tk" transform="translate(2631 967) rotate(-90)" text-anchor="middle">10</text>
<text class="tk" transform="translate(2631 1201) rotate(-90)" text-anchor="middle">8</text>
<text class="tk" transform="translate(2631 1435) rotate(-90)" text-anchor="middle">6</text>
<text class="tk" transform="translate(2631 1669) rotate(-90)" text-anchor="middle">4</text>
<text class="tk" transform="translate(2631 1903) rotate(-90)" text-anchor="middle">2</text>
<text class="tk" transform="translate(2631 2137) rotate(-90)" text-anchor="middle">0</text>
</g>
<g id="x-labels">
<text class="xl" x="2807" y="2180" text-anchor="middle">GroupA</text>
<text class="xl" x="3065" y="2180" text-anchor="middle">GroupB</text>
<text class="xl" x="3320" y="2180" text-anchor="middle">GroupC</text>
<text class="xl" x="3581" y="2180" text-anchor="middle">GroupD</text>
<text class="xl" x="3836" y="2180" text-anchor="middle">GroupE</text>
</g>
<text class="ax" x="3280" y="2288" text-anchor="middle" textLength="296" lengthAdjust="spacingAndGlyphs">Group</text>
<text class="ax" transform="translate(2578 1433) rotate(-90)" text-anchor="middle" textLength="755" lengthAdjust="spacingAndGlyphs">Number of Rboh</text>
<g id="legend">
<rect x="3338" y="731" width="614" height="373" fill="#ffffff" stroke="#555" stroke-width="2.5"/>
<rect x="3368" y="793" width="64" height="62" fill="#F4928B"/>
<rect x="3368" y="889" width="64" height="62" fill="#988DC6"/>
<rect x="3368" y="985" width="64" height="62" fill="#88CC6E"/>
<text class="lg" x="3464" y="840"><tspan font-style="italic">Triticum aestivum</tspan> L.</text>
<text class="lg" x="3464" y="936"><tspan font-style="italic">Arabidopsis thaliana</tspan></text>
<text class="lg" x="3464" y="1032"><tspan font-style="italic">Oryza sativa</tspan> L.</text>
</g>
</g>
</svg>
